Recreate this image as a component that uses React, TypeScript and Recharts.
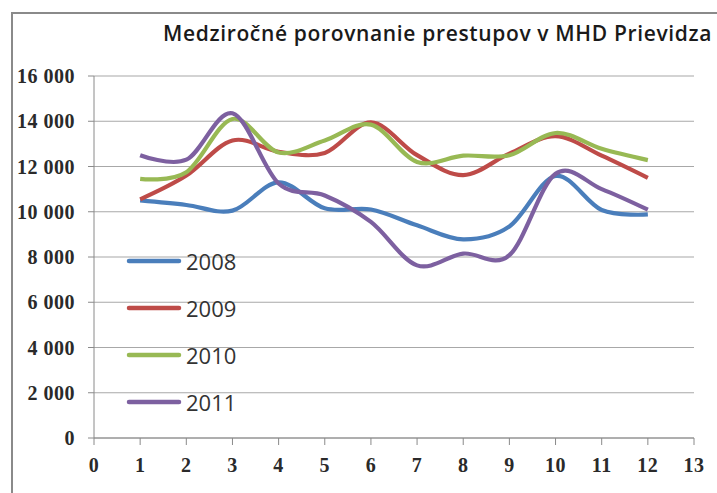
import React from 'react';
import { LineChart, Line, XAxis, YAxis, CartesianGrid, Legend } from 'recharts';

const months = [1, 2, 3, 4, 5, 6, 7, 8, 9, 10, 11, 12];
const s2008 = [10500, 10300, 10050, 11300, 10150, 10100, 9400, 8780, 9350, 11580, 10080, 9880];
const s2009 = [10550, 11600, 13150, 12650, 12600, 13950, 12500, 11620, 12570, 13340, 12480, 11500];
const s2010 = [11450, 11750, 14100, 12620, 13150, 13850, 12200, 12480, 12500, 13480, 12780, 12280];
const s2011 = [12500, 12300, 14350, 11250, 10720, 9550, 7630, 8150, 8080, 11680, 11000, 10090];
const xTicks = [0, 1, 2, 3, 4, 5, 6, 7, 8, 9, 10, 11, 12, 13];
const yTicks = [0, 2000, 4000, 6000, 8000, 10000, 12000, 14000, 16000];
const title = 'Medziročné porovnanie prestupov v MHD Prievidza';

const seriesDefs = [
  { key: 'y2008', name: '2008', color: '#4A7EBB', values: s2008 },
  { key: 'y2009', name: '2009', color: '#BE4B48', values: s2009 },
  { key: 'y2010', name: '2010', color: '#98B954', values: s2010 },
  { key: 'y2011', name: '2011', color: '#7D60A0', values: s2011 },
];

const data = months.map((m, i) => {
  const row: any = { month: m };
  seriesDefs.forEach((s) => {
    row[s.key] = s.values[i];
  });
  return row;
});

// Cardinal (Catmull-Rom like) curve similar to Excel smoothed lines
function cardinalPoint(that: any, x: number, y: number) {
  that._context.bezierCurveTo(
    that._x1 + that._k * (that._x2 - that._x0),
    that._y1 + that._k * (that._y2 - that._y0),
    that._x2 + that._k * (that._x1 - x),
    that._y2 + that._k * (that._y1 - y),
    that._x2,
    that._y2
  );
}
function Cardinal(this: any, context: any) {
  this._context = context;
  this._k = 1 / 6;
}
Cardinal.prototype = {
  areaStart() {
    this._line = 0;
  },
  areaEnd() {
    this._line = NaN;
  },
  lineStart() {
    this._x0 = this._x1 = this._x2 = this._y0 = this._y1 = this._y2 = NaN;
    this._point = 0;
  },
  lineEnd() {
    switch (this._point) {
      case 2:
        this._context.lineTo(this._x2, this._y2);
        break;
      case 3:
        cardinalPoint(this, this._x1, this._y1);
        break;
    }
    if (this._line || (this._line !== 0 && this._point === 1)) this._context.closePath();
    this._line = 1 - this._line;
  },
  point(x: number, y: number) {
    x = +x;
    y = +y;
    switch (this._point) {
      case 0:
        this._point = 1;
        if (this._line) this._context.lineTo(x, y);
        else this._context.moveTo(x, y);
        break;
      case 1:
        this._point = 2;
        this._x1 = x;
        this._y1 = y;
        break;
      case 2:
        this._point = 3;
        cardinalPoint(this, x, y);
        break;
      default:
        cardinalPoint(this, x, y);
        break;
    }
    this._x0 = this._x1;
    this._x1 = this._x2;
    this._x2 = x;
    this._y0 = this._y1;
    this._y1 = this._y2;
    this._y2 = y;
  },
};
const cardinalCurve: any = (context: any) => new (Cardinal as any)(context);

const fmtY = (v: number) => {
  if (v === 0) return '0';
  const th = Math.floor(v / 1000);
  const rest = String(v % 1000).padStart(3, '0');
  return `${th} ${rest}`;
};

const tickFont = {
  fontFamily: '"Liberation Serif", serif',
  fontWeight: 700,
  fontSize: 20,
  letterSpacing: 0.5,
  fill: '#2a2a2a',
};

const LegendContent = (props: any) => {
  const payload = props.payload || [];
  return (
    <div style={{ display: 'flex', flexDirection: 'column' }}>
      {payload.map((p: any) => (
        <div
          key={p.value}
          style={{ display: 'flex', alignItems: 'center', height: 47 }}
        >
          <svg width={56} height={8} style={{ display: 'block' }}>
            <line x1={3} y1={4} x2={53} y2={4} stroke={p.color} strokeWidth={4.5} strokeLinecap="round" />
          </svg>
          <span
            style={{
              fontFamily: '"Open Sans", sans-serif',
              fontSize: 22,
              color: '#333',
              marginLeft: 4,
              lineHeight: '22px',
            }}
          >
            {p.value}
          </span>
        </div>
      ))}
    </div>
  );
};

export default function App() {
  return (
    <div
      style={{
        position: 'absolute',
        left: 0,
        top: 0,
        width: 717,
        height: 493,
        overflow: 'hidden',
        background: '#fff',
      }}
    >
      <div
        style={{
          position: 'absolute',
          left: 11,
          top: 12,
          width: 800,
          height: 600,
          border: '2px solid #8a8a8a',
        }}
      />
      <div
        style={{
          position: 'absolute',
          left: 163,
          top: 19,
          whiteSpace: 'nowrap',
          fontFamily: '"Open Sans", sans-serif',
          fontSize: 21,
          fontWeight: 600,
          letterSpacing: 0.65,
          color: '#1a1a1a',
          lineHeight: '28px',
        }}
      >
        {title}
      </div>
      <div style={{ position: 'absolute', left: 0, top: 0 }}>
        <LineChart
          width={717}
          height={493}
          data={data}
          margin={{ top: 76, right: 23, bottom: 25, left: 0 }}
        >
          <CartesianGrid vertical={false} stroke="#a8a8a8" strokeWidth={1.2} />
          <XAxis
            dataKey="month"
            type="number"
            domain={[0, 13]}
            ticks={xTicks}
            interval={0}
            height={30}
            tickSize={7}
            tickMargin={13}
            stroke="#8a8a8a"
            tick={tickFont}
            allowDecimals={false}
          />
          <YAxis
            type="number"
            domain={[0, 16000]}
            ticks={yTicks}
            interval={0}
            width={94}
            tickSize={6}
            tickMargin={13}
            stroke="#8a8a8a"
            tick={tickFont}
            tickFormatter={fmtY}
          />
          <Legend
            layout="vertical"
            align="center"
            verticalAlign="middle"
            content={<LegendContent />}
            wrapperStyle={{ position: 'absolute', left: 126, top: 237, width: 150 }}
          />
          {seriesDefs.map((s) => (
            <Line
              key={s.key}
              dataKey={s.key}
              name={s.name}
              stroke={s.color}
              strokeWidth={4.2}
              type={cardinalCurve}
              dot={false}
              activeDot={false}
              isAnimationActive={false}
            />
          ))}
        </LineChart>
      </div>
    </div>
  );
}
